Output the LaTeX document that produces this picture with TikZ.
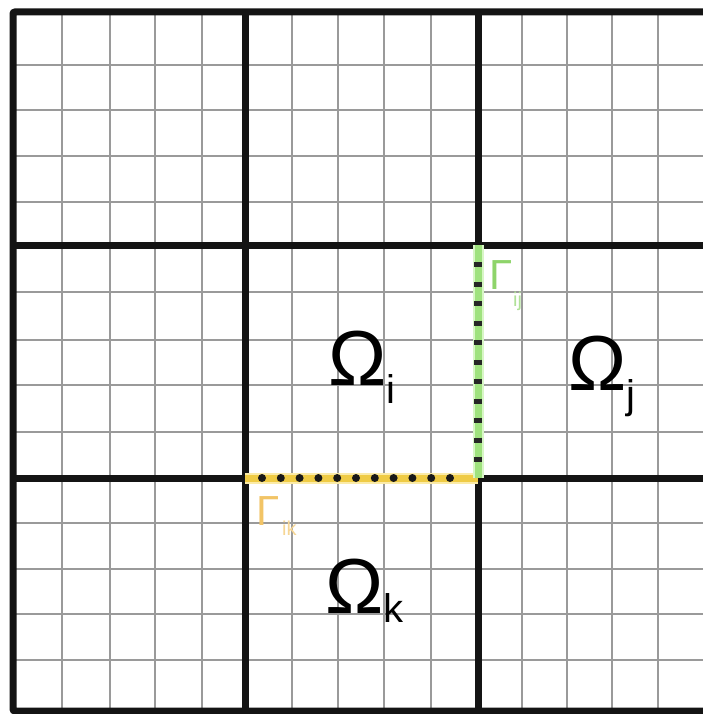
\documentclass[tikz,border=0pt]{standalone}
\usepackage{fontspec}
\setmainfont{Liberation Sans}
\definecolor{gridgray}{HTML}{9A9A9A}
\definecolor{ybandout}{HTML}{FBEBA8}
\definecolor{ybandin}{HTML}{EFCB45}
\definecolor{gbandout}{HTML}{D8F6C6}
\definecolor{gbandin}{HTML}{9FE27E}
\definecolor{gtext}{HTML}{8ED46A}
\definecolor{otext}{HTML}{F2C466}
\begin{document}
\begin{tikzpicture}[x=1pt,y=-1pt,
  finegrid/.style={draw=gridgray, line width=2.2pt},
  coarsegrid/.style={draw=black!92, line width=7pt},
  bandout/.style={line width=11pt},
  bandin/.style={line width=7pt},
  hdots/.style={draw=black!90, line width=8pt, line cap=round, dash pattern=on 0pt off 18.8pt},
  vdots/.style={draw=black!85, line width=7.5pt, dash pattern=on 5pt off 14.5pt},
  omegalabel/.style={anchor=base west, inner sep=0pt, font=\fontsize{78}{80}\selectfont},
  gammalabel/.style={anchor=base west, inner sep=0pt, font=\fontsize{42}{44}\selectfont},
  gammasub/.style={anchor=base west, inner sep=0pt, font=\fontsize{20}{22}\selectfont}]
\useasboundingbox (0,0) rectangle (703,714);
\fill[white] (0,0) rectangle (703,714);
% fine grid
\foreach \x in {62,110,155,202,292,338,384,431,522,567,612,658}
  \draw[finegrid] (\x,12) -- (\x,711);
\foreach \y in {65,110,156,202,292,340,385,432,523,569,614,660}
  \draw[finegrid] (13,\y) -- (711,\y);
% coarse grid
\draw[coarsegrid, rounded corners=2pt] (13,12) rectangle (711,711);
\foreach \x in {245,478}
  \draw[coarsegrid] (\x,12) -- (\x,711);
\foreach \y in {245,478}
  \draw[coarsegrid] (13,\y) -- (711,\y);
% interfaces
\coordinate (c1) at (245,478);
\coordinate (c2) at (478,478);
\coordinate (c3) at (478,245);
\draw[bandout, ybandout] (c1) -- (c2);
\draw[bandin, ybandin] (c1) -- (c2);
\draw[hdots] (262,478) -- (462,478);
\draw[bandout, gbandout] (c3) -- (c2);
\draw[bandin, gbandin] (c3) -- (c2);
\draw[vdots] (478,262) -- (478,475);
% labels
\node[omegalabel] (oi) at (328,385) {Ω\raisebox{-18pt}{\fontsize{40}{40}\selectfont i}};
\node[omegalabel] (oj) at (568,390) {Ω\raisebox{-18pt}{\fontsize{40}{40}\selectfont j}};
\node[omegalabel] (ok) at (325,613) {Ω\raisebox{-9pt}{\fontsize{40}{40}\selectfont k}};
\node[gammalabel, text=gtext] (gij) at (489,289) {Γ};
\node[gammasub, text=gtext!70] (gijs) at (513,306) {ij};
\node[gammalabel, text=otext] (gik) at (256,525) {Γ};
\node[gammasub, text=otext!70] (giks) at (282,535) {ik};
\end{tikzpicture}
\end{document}
